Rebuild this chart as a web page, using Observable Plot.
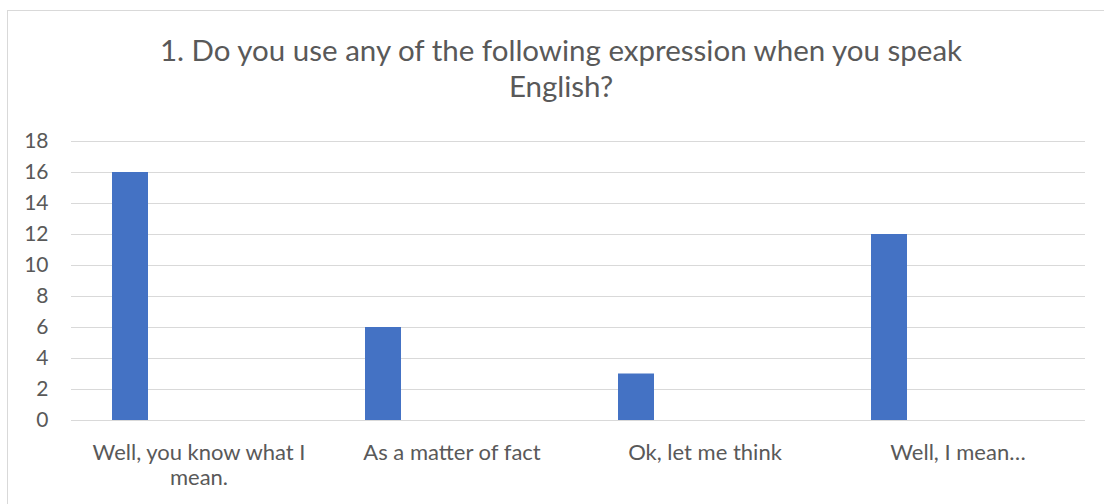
<!DOCTYPE html>
<html><head><meta charset="utf-8">
<script src="https://cdn.jsdelivr.net/npm/d3@7"></script>
<script src="https://cdn.jsdelivr.net/npm/@observablehq/plot@0.6"></script>
<style>
html,body{margin:0;padding:0;background:#fff;}
#wrap{position:relative;width:1104px;height:504px;overflow:hidden;font-family:Lato,sans-serif;}
#border{position:absolute;left:7px;top:10px;width:1110px;height:520px;border:1px solid #d9d9d9;box-sizing:border-box;}
#title{position:absolute;left:0;width:1122px;top:32px;text-align:center;color:#595959;font-size:29.5px;line-height:36px;}
#chart{position:absolute;left:0;top:0;}
</style></head>
<body>
<div id="wrap">
  <div id="border"></div>
  <div id="title">1. Do you use any of the following expression when you speak<br>English?</div>
  <div id="chart"></div>
</div>
<script>
const categories = ["Well, you know what I\nmean.", "As a matter of fact", "Ok, let me think", "Well, I mean…"];
const counts = [16, 6, 3, 12];
const yTicks = [0, 2, 4, 6, 8, 10, 12, 14, 16, 18];

const data = categories.map((c, i) => ({category: c, count: counts[i]}));

const chart = Plot.plot({
  width: 1104,
  height: 504,
  marginLeft: 71,
  marginRight: 19,
  marginTop: 141,
  marginBottom: 84,
  style: {background: "transparent", color: "#595959", fontFamily: "Lato, sans-serif", fontSize: "21px", overflow: "visible"},
  x: {domain: categories, padding: 0, label: null},
  y: {domain: [0, 18], label: null},
  marks: [
    Plot.gridY(yTicks, {stroke: "#d9d9d9", strokeOpacity: 1, strokeWidth: 1}),
    Plot.barY(data, {x: "category", y: "count", fill: "#4472C4", insetLeft: 40, insetRight: 177}),
    Plot.axisY(yTicks, {tickSize: 0, tickPadding: 23, label: null, fontSize: 21}),
    Plot.axisX({tickSize: 0, tickPadding: 22, label: null, fontSize: 22, lineHeight: 1.13})
  ]
});
document.getElementById("chart").appendChild(chart);
</script>
</body></html>
